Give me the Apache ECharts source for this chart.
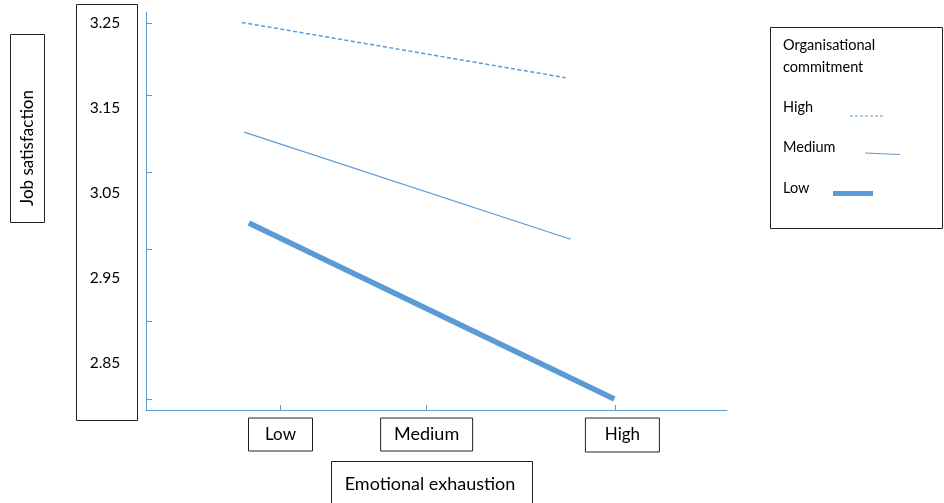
<!DOCTYPE html>
<html><head><meta charset="utf-8">
<script src="https://cdn.jsdelivr.net/npm/echarts@6/dist/echarts.min.js"></script>
<style>html,body{margin:0;padding:0;background:#fff}#c{width:944px;height:503px}</style>
</head><body><div id="c"></div>
<script>
// ---- data ----
const seriesNames = ['High', 'Medium', 'Low'];
const highLine = [[16.5, 3.251], [72.2, 3.186]];
const mediumLine = [[16.9, 3.122], [73.1, 2.996]];
const lowLine = [[17.7, 3.015], [80.6, 2.808]];
const xCategories = ['Low', 'Medium', 'High'];
const xTickValues = [23.1, 48.2, 80.8];
const xLabelValues = [23.15, 48.3, 82.0];
const yLabelValues = [2.85, 2.95, 3.05, 3.15, 3.25];
const yTickValues = [2.808, 2.899, 2.984, 3.075, 3.165, 3.25];
const xAxisTitle = 'Emotional exhaustion';
const yAxisTitle = 'Job satisfaction';
const legendTitle = ['Organisational', 'commitment'];

const BLUE = '#5B9BD5';
const FONT = 'Lato';
const chart = echarts.init(document.getElementById('c'), null, {renderer: 'canvas'});

function nearestIdx(arr, v) {
  let best = 0;
  for (let i = 1; i < arr.length; i++) if (Math.abs(arr[i] - v) < Math.abs(arr[best] - v)) best = i;
  return best;
}
const boxKeys = ['lo', 'me', 'hi'];
const boxBase = {height: 33, align: 'center', borderColor: '#222', borderWidth: 1, fontSize: 17, fontFamily: FONT, color: '#000'};

chart.setOption({
  animation: false,
  backgroundColor: '#fff',
  textStyle: {fontFamily: FONT},
  grid: {left: 146, top: 12, width: 581, height: 398},
  xAxis: {
    type: 'value', min: 0, max: 100,
    axisLine: {show: true, lineStyle: {color: BLUE, width: 1}},
    axisTick: {show: true, inside: true, length: 5, customValues: xTickValues, lineStyle: {color: BLUE}},
    splitLine: {show: false},
    axisLabel: {
      customValues: xLabelValues, margin: 8, color: '#000', fontFamily: FONT, fontSize: 17,
      formatter: function (v) { const i = nearestIdx(xLabelValues, v); return '{' + boxKeys[i] + '|' + xCategories[i] + '}'; },
      rich: {
        lo: Object.assign({}, boxBase, {width: 64}),
        me: Object.assign({}, boxBase, {width: 92, fontSize: 18}),
        hi: Object.assign({}, boxBase, {width: 74, height: 34})
      }
    }
  },
  yAxis: {
    type: 'value', min: 2.7951, max: 3.2633,
    axisLine: {show: true, lineStyle: {color: BLUE, width: 1}},
    axisTick: {show: true, inside: true, length: 6, customValues: yTickValues, lineStyle: {color: BLUE}},
    splitLine: {show: false},
    axisLabel: {customValues: yLabelValues, align: 'center', margin: 41, color: '#000', fontFamily: FONT, fontSize: 15.5,
      formatter: function (v) { return v.toFixed(2); }}
  },
  series: [
    {name: seriesNames[0], type: 'line', data: highLine, showSymbol: false, silent: true,
      lineStyle: {color: BLUE, width: 1.5, type: [4, 2.5]}},
    {name: seriesNames[1], type: 'line', data: mediumLine, showSymbol: false, silent: true,
      lineStyle: {color: BLUE, width: 1.1}},
    {name: seriesNames[2], type: 'line', data: lowLine, showSymbol: false, silent: true,
      lineStyle: {color: BLUE, width: 5.5, cap: 'butt'}}
  ],
  graphic: [
    // y tick label box
    {type: 'rect', shape: {x: 76.5, y: 4.5, width: 61, height: 416}, style: {fill: 'none', stroke: '#222', lineWidth: 1}},
    // y axis title box
    {type: 'rect', shape: {x: 10.5, y: 34.5, width: 34, height: 188}, style: {fill: 'none', stroke: '#222', lineWidth: 1}},
    {type: 'text', x: 28, y: 148, rotation: Math.PI / 2,
      style: {text: yAxisTitle, align: 'center', verticalAlign: 'middle', font: '17px ' + FONT, fill: '#000'}},
    // x axis title box
    {type: 'rect', shape: {x: 331.5, y: 461.5, width: 201, height: 50}, style: {fill: 'none', stroke: '#222', lineWidth: 1}},
    {type: 'text', x: 430, y: 484,
      style: {text: xAxisTitle, align: 'center', verticalAlign: 'middle', font: '18px ' + FONT, fill: '#000'}},
    // legend
    {type: 'rect', shape: {x: 770.5, y: 27.5, width: 172, height: 201}, style: {fill: 'none', stroke: '#222', lineWidth: 1}},
    {type: 'text', x: 783, y: 45, style: {text: legendTitle[0], verticalAlign: 'middle', font: '14.5px ' + FONT, fill: '#000'}},
    {type: 'text', x: 783, y: 67, style: {text: legendTitle[1], verticalAlign: 'middle', font: '14.5px ' + FONT, fill: '#000'}},
    {type: 'text', x: 783, y: 107, style: {text: seriesNames[0], verticalAlign: 'middle', font: '14.5px ' + FONT, fill: '#000'}},
    {type: 'text', x: 783, y: 147.5, style: {text: seriesNames[1], verticalAlign: 'middle', font: '14.5px ' + FONT, fill: '#000'}},
    {type: 'text', x: 783, y: 188, style: {text: seriesNames[2], verticalAlign: 'middle', font: '14.5px ' + FONT, fill: '#000'}},
    {type: 'line', shape: {x1: 850, y1: 116, x2: 884, y2: 116}, style: {stroke: BLUE, lineWidth: 1.2, lineDash: [3, 2]}},
    {type: 'line', shape: {x1: 865, y1: 153, x2: 900, y2: 154.5}, style: {stroke: BLUE, lineWidth: 1.2}},
    {type: 'line', shape: {x1: 833, y1: 193.5, x2: 873, y2: 193.5}, style: {stroke: BLUE, lineWidth: 5}}
  ]
});
</script></body></html>
